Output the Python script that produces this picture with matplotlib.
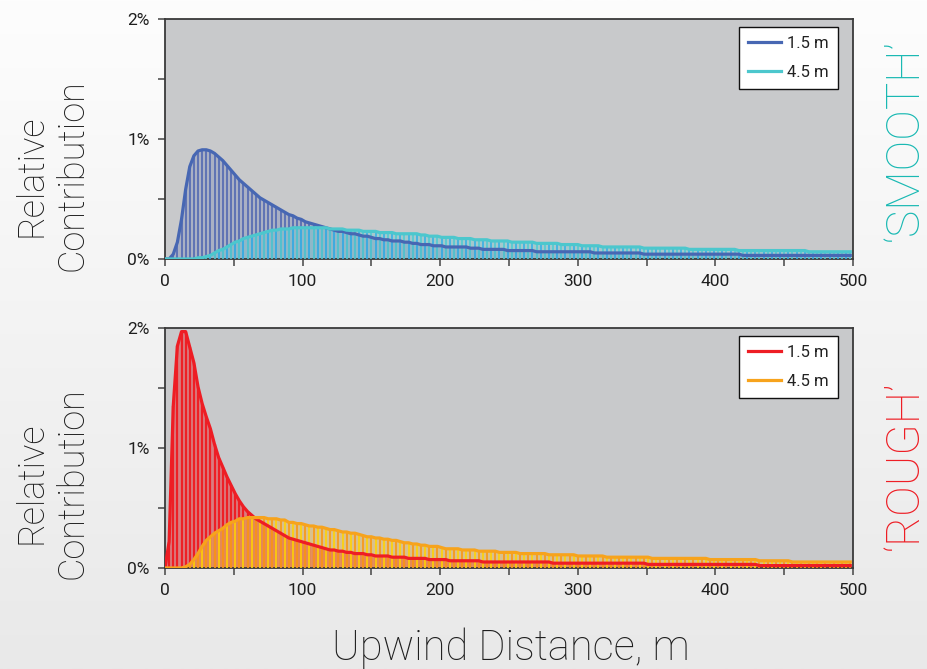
import numpy as np
import matplotlib
matplotlib.use("Agg")
import matplotlib.pyplot as plt
from matplotlib.ticker import MultipleLocator, FuncFormatter

plt.rcParams['font.family'] = ['Roboto', 'DejaVu Sans']
plt.rcParams['font.weight'] = 'light'

# upwind distance grid (m)
distance = np.arange(0, 499, 3)

# relative contribution (%) at each distance, smooth surface
smooth_15 = [
    0.00, 0.00, 0.04, 0.14, 0.33, 0.58, 0.77, 0.86, 0.90, 0.91,
    0.91, 0.90, 0.88, 0.85, 0.82, 0.78, 0.74, 0.70, 0.66, 0.63,
    0.60, 0.57, 0.54, 0.51, 0.49, 0.47, 0.45, 0.43, 0.41, 0.39,
    0.37, 0.36, 0.34, 0.33, 0.31, 0.30, 0.29, 0.28, 0.27, 0.26,
    0.25, 0.24, 0.23, 0.23, 0.22, 0.21, 0.21, 0.20, 0.19, 0.19,
    0.18, 0.17, 0.17, 0.16, 0.16, 0.15, 0.15, 0.15, 0.14, 0.14,
    0.13, 0.13, 0.12, 0.12, 0.12, 0.11, 0.11, 0.11, 0.10, 0.10,
    0.10, 0.10, 0.10, 0.10, 0.09, 0.09, 0.09, 0.08, 0.08, 0.08,
    0.08, 0.08, 0.08, 0.07, 0.07, 0.07, 0.07, 0.07, 0.07, 0.07,
    0.06, 0.06, 0.06, 0.06, 0.06, 0.06, 0.06, 0.06, 0.06, 0.06,
    0.06, 0.06, 0.06, 0.06, 0.05, 0.05, 0.05, 0.05, 0.05, 0.05,
    0.05, 0.05, 0.05, 0.05, 0.05, 0.05, 0.04, 0.04, 0.04, 0.04,
    0.04, 0.04, 0.04, 0.04, 0.04, 0.04, 0.04, 0.04, 0.04, 0.04,
    0.04, 0.04, 0.04, 0.04, 0.04, 0.04, 0.04, 0.04, 0.04, 0.04,
    0.03, 0.03, 0.03, 0.03, 0.03, 0.03, 0.03, 0.03, 0.03, 0.03,
    0.03, 0.03, 0.03, 0.03, 0.03, 0.03, 0.03, 0.03, 0.03, 0.03,
    0.03, 0.03, 0.03, 0.03, 0.03, 0.03, 0.03,
]
smooth_45 = [
    0.00, 0.00, 0.00, 0.00, 0.00, 0.00, 0.00, 0.00, 0.01, 0.01,
    0.02, 0.03, 0.05, 0.07, 0.08, 0.10, 0.12, 0.14, 0.15, 0.17,
    0.18, 0.19, 0.20, 0.21, 0.22, 0.23, 0.24, 0.24, 0.25, 0.25,
    0.25, 0.26, 0.26, 0.26, 0.26, 0.26, 0.26, 0.26, 0.26, 0.26,
    0.25, 0.25, 0.25, 0.25, 0.24, 0.24, 0.24, 0.24, 0.23, 0.23,
    0.23, 0.23, 0.22, 0.22, 0.22, 0.22, 0.21, 0.21, 0.21, 0.21,
    0.21, 0.21, 0.20, 0.20, 0.19, 0.19, 0.19, 0.18, 0.18, 0.18,
    0.18, 0.17, 0.17, 0.17, 0.17, 0.16, 0.16, 0.16, 0.16, 0.15,
    0.15, 0.15, 0.15, 0.15, 0.14, 0.14, 0.14, 0.14, 0.14, 0.14,
    0.13, 0.13, 0.13, 0.13, 0.13, 0.13, 0.12, 0.12, 0.12, 0.12,
    0.12, 0.11, 0.11, 0.11, 0.11, 0.11, 0.10, 0.10, 0.10, 0.10,
    0.10, 0.10, 0.10, 0.10, 0.10, 0.10, 0.09, 0.09, 0.09, 0.09,
    0.09, 0.09, 0.09, 0.09, 0.09, 0.09, 0.09, 0.08, 0.08, 0.08,
    0.08, 0.08, 0.08, 0.08, 0.08, 0.08, 0.08, 0.08, 0.08, 0.07,
    0.07, 0.07, 0.07, 0.07, 0.07, 0.07, 0.07, 0.07, 0.07, 0.07,
    0.07, 0.07, 0.07, 0.07, 0.07, 0.07, 0.06, 0.06, 0.06, 0.06,
    0.06, 0.06, 0.06, 0.06, 0.06, 0.06, 0.06,
]

# relative contribution (%) at each distance, rough surface
rough_15 = [
    0.00, 0.22, 1.35, 1.85, 1.97, 1.97, 1.84, 1.71, 1.51, 1.37,
    1.26, 1.16, 1.03, 0.92, 0.84, 0.76, 0.69, 0.62, 0.56, 0.51,
    0.47, 0.44, 0.41, 0.39, 0.37, 0.35, 0.33, 0.31, 0.29, 0.27,
    0.25, 0.24, 0.23, 0.22, 0.21, 0.20, 0.19, 0.18, 0.17, 0.16,
    0.15, 0.15, 0.14, 0.14, 0.13, 0.13, 0.12, 0.12, 0.12, 0.11,
    0.11, 0.10, 0.10, 0.10, 0.10, 0.09, 0.09, 0.09, 0.09, 0.08,
    0.08, 0.08, 0.08, 0.08, 0.07, 0.07, 0.07, 0.07, 0.07, 0.06,
    0.06, 0.06, 0.06, 0.06, 0.06, 0.06, 0.06, 0.05, 0.05, 0.05,
    0.05, 0.05, 0.05, 0.05, 0.05, 0.05, 0.05, 0.05, 0.05, 0.05,
    0.05, 0.05, 0.05, 0.05, 0.04, 0.04, 0.04, 0.04, 0.04, 0.04,
    0.04, 0.04, 0.04, 0.04, 0.04, 0.04, 0.04, 0.04, 0.04, 0.04,
    0.04, 0.04, 0.04, 0.04, 0.04, 0.04, 0.04, 0.03, 0.03, 0.03,
    0.03, 0.03, 0.03, 0.03, 0.03, 0.03, 0.03, 0.03, 0.03, 0.03,
    0.03, 0.03, 0.03, 0.03, 0.03, 0.03, 0.03, 0.03, 0.03, 0.03,
    0.03, 0.03, 0.03, 0.03, 0.02, 0.02, 0.02, 0.02, 0.02, 0.02,
    0.02, 0.02, 0.02, 0.02, 0.02, 0.02, 0.02, 0.02, 0.02, 0.02,
    0.02, 0.02, 0.02, 0.02, 0.02, 0.02, 0.02,
]
rough_45 = [
    0.00, 0.00, 0.00, 0.00, 0.00, 0.01, 0.03, 0.07, 0.12, 0.18,
    0.23, 0.26, 0.29, 0.31, 0.33, 0.36, 0.38, 0.39, 0.41, 0.41,
    0.42, 0.42, 0.42, 0.42, 0.42, 0.41, 0.41, 0.41, 0.40, 0.40,
    0.38, 0.38, 0.37, 0.37, 0.36, 0.35, 0.35, 0.34, 0.34, 0.33,
    0.32, 0.32, 0.31, 0.30, 0.30, 0.29, 0.29, 0.28, 0.27, 0.26,
    0.26, 0.25, 0.25, 0.24, 0.24, 0.23, 0.23, 0.22, 0.21, 0.21,
    0.20, 0.20, 0.19, 0.19, 0.18, 0.18, 0.18, 0.17, 0.16, 0.16,
    0.16, 0.16, 0.15, 0.15, 0.15, 0.15, 0.14, 0.14, 0.14, 0.14,
    0.14, 0.13, 0.13, 0.13, 0.13, 0.13, 0.12, 0.12, 0.12, 0.12,
    0.12, 0.12, 0.12, 0.11, 0.11, 0.11, 0.11, 0.11, 0.11, 0.11,
    0.10, 0.10, 0.10, 0.10, 0.10, 0.10, 0.10, 0.09, 0.09, 0.09,
    0.09, 0.09, 0.09, 0.09, 0.09, 0.09, 0.09, 0.09, 0.08, 0.08,
    0.08, 0.08, 0.08, 0.08, 0.08, 0.08, 0.08, 0.08, 0.08, 0.08,
    0.08, 0.08, 0.07, 0.07, 0.07, 0.07, 0.07, 0.07, 0.07, 0.07,
    0.07, 0.07, 0.07, 0.07, 0.06, 0.06, 0.06, 0.06, 0.06, 0.06,
    0.06, 0.06, 0.05, 0.05, 0.05, 0.05, 0.05, 0.05, 0.05, 0.05,
    0.05, 0.05, 0.05, 0.05, 0.05, 0.05, 0.05,
]

series_labels = ["1.5 m", "4.5 m"]
x_ticks = [0, 100, 200, 300, 400, 500]
y_ticks = [0, 1, 2]

for s in (smooth_15, smooth_45, rough_15, rough_45):
    assert len(s) == len(distance)

fig = plt.figure(figsize=(9.28, 6.69), dpi=100)

# soft vertical gradient behind everything
bg = fig.add_axes([0, 0, 1, 1], zorder=-10)
grad = np.linspace(0, 1, 256).reshape(-1, 1)
bg.imshow(grad, aspect='auto', cmap=matplotlib.colors.LinearSegmentedColormap.from_list(
    'bgfade', ['#fdfdfd', '#e9e9e9']), extent=[0, 1, 0, 1], origin='upper')
bg.axis('off')

panels = [
    dict(rect=[0.1778, 0.6129, 0.7414, 0.3587],
         data=(smooth_15, smooth_45),
         line=('#4767b3', '#4cc7cd'),
         stems=(['#4a63b0'], ['#52cbd2', '#39b2e6']),
         stem_lw=(1.1, 1.2),
         fill=(('#4f68b2', 0.25), ('#52cbd2', 0.3)),
         tag="‘SMOOTH’", tag_color='#19b9b3',
         ylab_y=0.738, tag_y=0.79),
    dict(rect=[0.1778, 0.1510, 0.7414, 0.3587],
         data=(rough_15, rough_45),
         line=('#ee1d24', '#f7a31c'),
         stems=(['#ee1f25'], ['#f79a1c', '#fcd10f']),
         stem_lw=(1.6, 1.3),
         fill=(('#ef2228', 0.45), ('#f9b21a', 0.35)),
         tag="‘ROUGH’", tag_color='#ee1d24',
         ylab_y=0.278, tag_y=0.305),
]

for p in panels:
    ax = fig.add_axes(p['rect'])
    ax.set_facecolor('#c8c9cb')
    x = distance
    v1 = np.array(p['data'][0])
    v2 = np.array(p['data'][1])

    for k, (vals, stems, (fc, fa), slw) in enumerate(
            zip((v1, v2), p['stems'], p['fill'], p['stem_lw'])):
        ax.fill_between(x, 0, vals, color=fc, alpha=fa, lw=0, zorder=1 + k)
        cols = [stems[i % len(stems)] for i in range(len(x))]
        ax.vlines(x, 0, vals, colors=cols, lw=slw, zorder=2 + k)

    h1, = ax.plot(x, v1, color=p['line'][0], lw=2.3, zorder=5, label=series_labels[0])
    h2, = ax.plot(x, v2, color=p['line'][1], lw=2.3, zorder=6, label=series_labels[1])

    ax.set_xlim(0, 500)
    ax.set_ylim(0, 2)
    ax.set_xticks(x_ticks)
    ax.xaxis.set_minor_locator(MultipleLocator(50))
    ax.set_yticks(y_ticks)
    ax.yaxis.set_minor_locator(MultipleLocator(0.5))
    ax.yaxis.set_major_formatter(FuncFormatter(lambda v, _: f"{v:.0f}%"))
    ax.tick_params(which='both', direction='out', color='#444444', width=1.1,
                   labelsize=12.5, labelcolor='#1e1e1e', pad=6)
    ax.tick_params(which='major', length=5)
    ax.tick_params(which='minor', length=5)
    for lab in ax.get_xticklabels() + ax.get_yticklabels():
        lab.set_fontweight('normal')
    for sp in ax.spines.values():
        sp.set_color('#3a3a3a')
        sp.set_linewidth(1.3)

    leg = ax.legend(handles=[h1, h2], loc='upper right', bbox_to_anchor=(0.978, 0.967),
                    borderaxespad=0, frameon=True, fancybox=False, edgecolor='#111111',
                    facecolor='white', framealpha=1, fontsize=12, handlelength=2.0,
                    handletextpad=0.35, borderpad=0.55, labelspacing=0.85)
    leg.get_frame().set_linewidth(1.0)
    for t in leg.get_texts():
        t.set_color('#222222')
        t.set_fontweight('normal')

    fig.text(0.056, p['ylab_y'], "Relative\nContribution", rotation=90,
             ha='center', va='center', fontsize=26, color='#1e1e1e',
             linespacing=1.2, multialignment='center')
    fig.text(0.975, p['tag_y'], p['tag'], rotation=90,
             ha='center', va='center', fontsize=33, color=p['tag_color'])

fig.text(0.55, 0.031, "Upwind Distance, m", ha='center', va='center',
         fontsize=30, color='#1e1e1e')

fig.savefig("out.png", dpi=100)
